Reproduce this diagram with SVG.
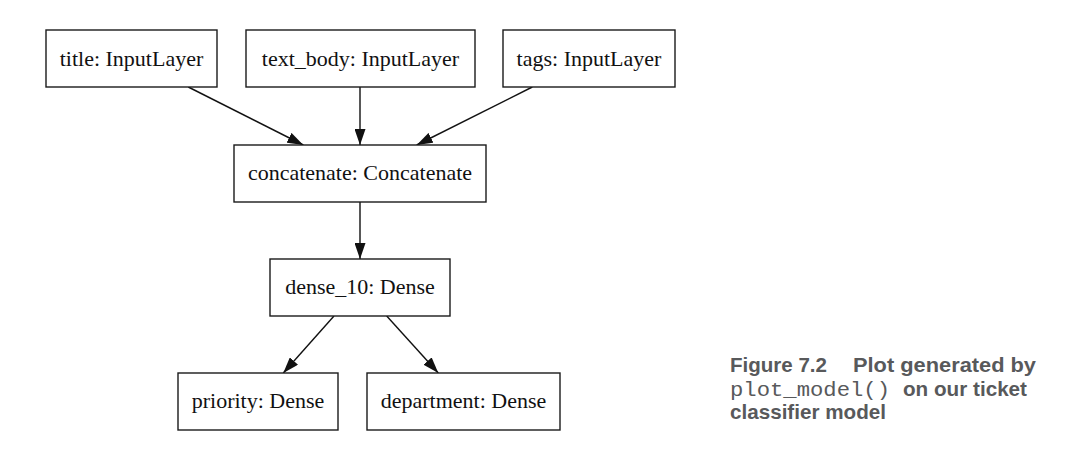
<svg xmlns="http://www.w3.org/2000/svg" width="1080" height="476" viewBox="0 0 1080 476">
<style>
.box{fill:#fff;stroke:#1a1a1a;stroke-width:1.4}
.lbl{font-family:"Liberation Serif","Times New Roman",serif;font-size:22px;fill:#111;text-anchor:middle}
.edge{stroke:#111;stroke-width:1.4;fill:none}
.cap{font-family:"Liberation Sans",Arial,sans-serif;font-weight:bold;font-size:20.5px;fill:#58595b}
.mono{font-family:"Liberation Mono","Courier New",monospace;font-size:21px;fill:#58595b}
</style>
<defs>
<marker id="ah" markerUnits="userSpaceOnUse" markerWidth="16" markerHeight="11" refX="16" refY="5.5" orient="auto">
<path d="M0,0 L16,5.5 L0,11 z" fill="#111"/>
</marker>
</defs>
<rect width="1080" height="476" fill="#fff"/>
<g id="connectors">
<line class="edge" x1="188.3" y1="87" x2="303.3" y2="145" marker-end="url(#ah)"/>
<line class="edge" x1="360" y1="87" x2="360" y2="145" marker-end="url(#ah)"/>
<line class="edge" x1="532.3" y1="87" x2="416.7" y2="145" marker-end="url(#ah)"/>
<line class="edge" x1="360" y1="202" x2="360" y2="259" marker-end="url(#ah)"/>
<line class="edge" x1="334" y1="316" x2="283.3" y2="373" marker-end="url(#ah)"/>
<line class="edge" x1="386.7" y1="316" x2="438.3" y2="373" marker-end="url(#ah)"/>
</g>
<g id="title">
<rect class="box" x="46" y="30" width="171" height="57"/>
<text class="lbl" x="131.5" y="65.5">title: InputLayer</text>
</g>
<g id="text_body">
<rect class="box" x="246" y="30" width="229" height="57"/>
<text class="lbl" x="360.5" y="65.5">text_body: InputLayer</text>
</g>
<g id="tags">
<rect class="box" x="503" y="30" width="172" height="57"/>
<text class="lbl" x="589" y="65.5">tags: InputLayer</text>
</g>
<g id="concatenate">
<rect class="box" x="234" y="145" width="252" height="57"/>
<text class="lbl" x="360" y="180">concatenate: Concatenate</text>
</g>
<g id="dense_10">
<rect class="box" x="270" y="259" width="180" height="57"/>
<text class="lbl" x="360" y="294">dense_10: Dense</text>
</g>
<g id="priority">
<rect class="box" x="178" y="373" width="160" height="57"/>
<text class="lbl" x="258" y="408">priority: Dense</text>
</g>
<g id="department">
<rect class="box" x="367" y="373" width="193" height="57"/>
<text class="lbl" x="463.5" y="408">department: Dense</text>
</g>
<g id="caption">
<text class="cap" x="730" y="372" textLength="97" lengthAdjust="spacingAndGlyphs">Figure 7.2</text>
<text class="cap" x="853" y="372" textLength="183" lengthAdjust="spacingAndGlyphs">Plot generated by</text>
<text class="mono" x="730" y="395.5" textLength="160" lengthAdjust="spacingAndGlyphs">plot_model()</text>
<text class="cap" x="903" y="395.5" textLength="124" lengthAdjust="spacingAndGlyphs">on our ticket</text>
<text class="cap" x="730" y="418.5" textLength="156" lengthAdjust="spacingAndGlyphs">classifier model</text>
</g>
</svg>
